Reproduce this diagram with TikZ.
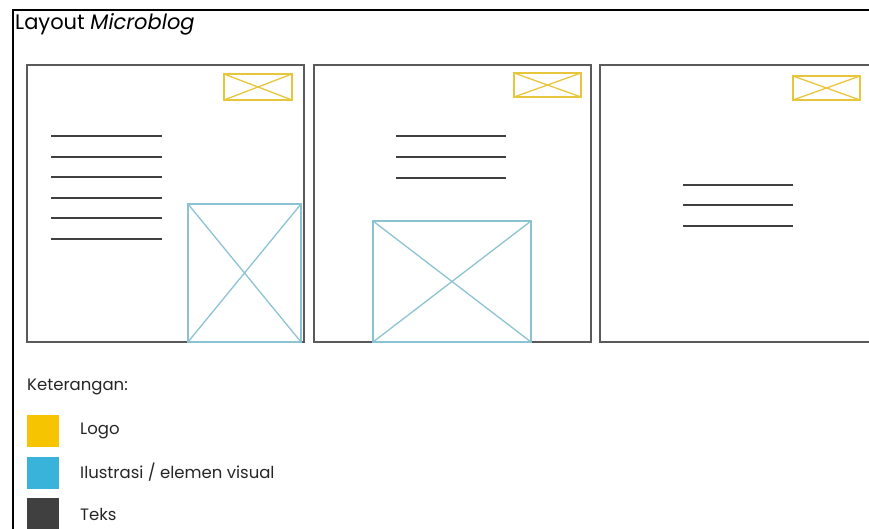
\documentclass[tikz,border=0pt]{standalone}
\usepackage{fontspec}
\setmainfont{Poppins}
\definecolor{logoy}{HTML}{E8C63C}
\definecolor{legy}{HTML}{F6C400}
\definecolor{illb}{HTML}{8CC3D3}
\definecolor{legb}{HTML}{3AB3DA}
\definecolor{txtd}{HTML}{404040}
\definecolor{panelg}{HTML}{5A5A5A}
\begin{document}
\begin{tikzpicture}[x=1pt,y=-1pt,
  panel/.style={draw=panelg,line width=1.4pt},
  logobox/.style={draw=logoy,line width=1.3pt},
  illbox/.style={draw=illb,line width=1.3pt},
  txtline/.style={draw=txtd,line width=1.8pt},
  legtext/.style={anchor=west,inner sep=0pt,font=\fontsize{16.5}{19}\selectfont,text=black!85}]
\useasboundingbox (0,0) rectangle (869,529);
\begin{scope}
\clip (0,0) rectangle (869,529);
% outer frame
\draw[line width=2.8pt,black] (13,540) -- (13,10) -- (880,10);
% panels
\draw[panel] (27,65) rectangle (304,342);
\draw[panel] (314,65) rectangle (591,342);
\draw[panel] (600,65) rectangle (885,342);
% logos
\foreach \a/\b/\c/\d in {224/74/292/100, 514/73/581/97, 793/76/860/100}{
  \draw[logobox] (\a,\b) rectangle (\c,\d);
  \draw[logobox] (\a,\b) -- (\c,\d) (\a,\d) -- (\c,\b);
}
% illustrations
\foreach \a/\b/\c/\d in {188/204/301/342, 373/221/531/342}{
  \draw[illbox] (\a,\b) rectangle (\c,\d);
  \draw[illbox] (\a,\b) -- (\c,\d) (\a,\d) -- (\c,\b);
}
% text lines
\foreach \y in {136,157,177,198,218,239} \draw[txtline] (51,\y) -- (162,\y);
\foreach \y in {136,157,178} \draw[txtline] (396,\y) -- (506,\y);
\foreach \y in {185,205,226} \draw[txtline] (683,\y) -- (793,\y);
% legend swatches
\fill[legy] (27,415) rectangle (59,447);
\fill[legb] (27,457) rectangle (59,489);
\fill[txtd] (27,498) rectangle (59,540);
\end{scope}
\node[anchor=west,inner sep=0pt,font=\fontsize{21}{24}\selectfont,text=black] (title) at (15,24) {Layout \textit{Microblog}};
\node[legtext] (ket) at (27,387) {Keterangan:};
\node[legtext] (l1) at (80,431) {Logo};
\node[legtext] (l2) at (80,472) {Ilustrasi / elemen visual};
\node[legtext] (l3) at (80,514) {Teks};
\end{tikzpicture}
\end{document}
